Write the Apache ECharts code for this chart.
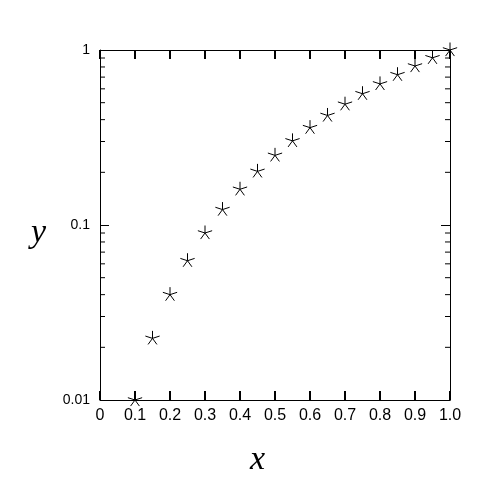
<!DOCTYPE html>
<html><head><meta charset="utf-8">
<script src="https://cdn.jsdelivr.net/npm/echarts@6/dist/echarts.min.js"></script>
<style>html,body{margin:0;padding:0;background:#fff}#c{width:500px;height:500px}</style>
</head><body><div id="c"></div>
<script>
const xValues = [0.1, 0.15, 0.2, 0.25, 0.3, 0.35, 0.4, 0.45, 0.5, 0.55, 0.6, 0.65, 0.7, 0.75, 0.8, 0.85, 0.9, 0.95, 1.0];
const yValues = [0.01, 0.0225, 0.04, 0.0625, 0.09, 0.1225, 0.16, 0.2025, 0.25, 0.3025, 0.36, 0.4225, 0.49, 0.5625, 0.64, 0.7225, 0.81, 0.9025, 1.0];
const xTickValues = [0, 0.1, 0.2, 0.3, 0.4, 0.5, 0.6, 0.7, 0.8, 0.9, 1.0];
const xTickLabels = ['0', '0.1', '0.2', '0.3', '0.4', '0.5', '0.6', '0.7', '0.8', '0.9', '1.0'];
const yTickValues = [0.01, 0.1, 1];
const yTickLabels = ['0.01', '0.1', '1'];
const yMinorTicks = [0.02, 0.03, 0.04, 0.05, 0.06, 0.07, 0.08, 0.09, 0.2, 0.3, 0.4, 0.5, 0.6, 0.7, 0.8, 0.9];

const points = xValues.map((x, i) => [x, yValues[i]]);
const star = 'path://M0,-1L0,0M-0.951,-0.309L0,0L0.951,-0.309M-0.588,0.809L0,0L0.588,0.809M0,1L0,1';

const chart = echarts.init(document.getElementById('c'), null, {renderer: 'canvas'});
function ls() { return {color: '#000', width: 1, type: 'solid'}; }
function xAxisOpt(pos) {
  return {
    type: 'value', min: 0, max: 1, interval: 0.1, position: pos,
    axisLine: {show: true, onZero: false, lineStyle: ls()},
    axisTick: {show: true, inside: true, length: 9, lineStyle: {color: '#000', width: 2, type: 'solid'}},
    axisLabel: pos === 'bottom' ? {
      show: true, color: '#000', fontSize: 16, fontFamily: 'Liberation Sans', margin: 8,
      formatter: v => { const i = xTickValues.findIndex(t => Math.abs(t - v) < 1e-9); return i >= 0 ? xTickLabels[i] : ''; }
    } : {show: false},
    splitLine: {show: false}
  };
}
function yAxisOpt(pos) {
  return {
    type: 'log', logBase: 10, min: 0.01, max: 1, position: pos,
    axisLine: {show: true, onZero: false, lineStyle: ls()},
    axisTick: {show: true, inside: true, length: 9, lineStyle: ls()},
    axisLabel: pos === 'left' ? {
      show: true, color: '#000', fontSize: 14, fontFamily: 'Liberation Sans', margin: 10,
      formatter: v => { const i = yTickValues.findIndex(t => Math.abs(t - v) < 1e-9); return i >= 0 ? yTickLabels[i] : ''; }
    } : {show: false},
    splitLine: {show: false}, minorTick: {show: false}
  };
}
function tickSeries(data, size, offset) {
  return {
    type: 'scatter', xAxisIndex: 0, yAxisIndex: 0, clip: false, silent: true, z: 1,
    data: data, symbol: 'rect', symbolSize: size, symbolOffset: offset, itemStyle: {color: '#000', opacity: 1}
  };
}
chart.setOption({
  animation: false,
  backgroundColor: '#fff',
  grid: {left: 100, top: 50, width: 350, height: 350},
  xAxis: [xAxisOpt('bottom'), xAxisOpt('top')],
  yAxis: [yAxisOpt('left'), yAxisOpt('right')],
  graphic: [
    {type: 'text', left: 31, top: 216, style: {text: 'y', fontFamily: 'Liberation Serif', fontStyle: 'italic', fontSize: 34, fill: '#000'}},
    {type: 'text', left: 250, top: 443, style: {text: 'x', fontFamily: 'Liberation Serif', fontStyle: 'italic', fontSize: 34, fill: '#000'}}
  ],
  series: [
    tickSeries(yMinorTicks.map(v => [0, v]), [5, 1], [2.5, 0]),
    tickSeries(yMinorTicks.map(v => [1, v]), [5, 1], [-2.5, 0]),
    {
      type: 'scatter', xAxisIndex: 0, yAxisIndex: 0, clip: false, z: 3,
      data: points, symbol: star, symbolSize: 15, symbolKeepAspect: true,
      itemStyle: {color: 'transparent', borderColor: '#000', borderWidth: 1, opacity: 1}
    }
  ]
});
</script></body></html>
